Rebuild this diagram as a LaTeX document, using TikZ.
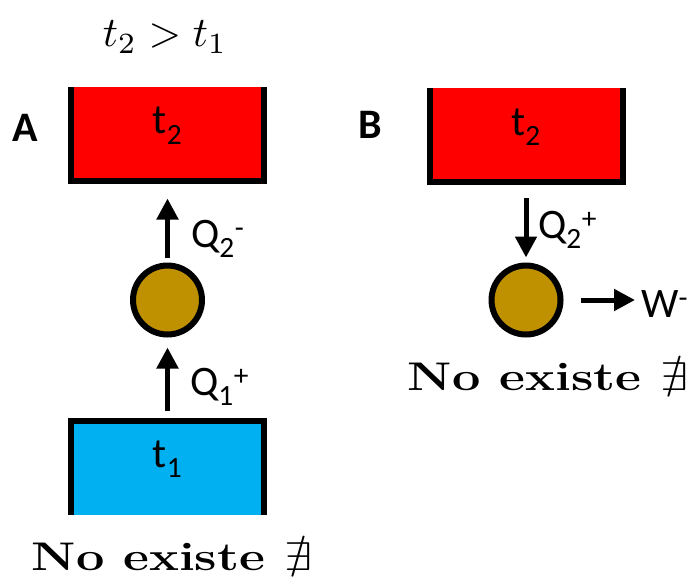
\documentclass[tikz,border=0pt]{standalone}
\usepackage{fontspec}
\usepackage{amssymb}
\usetikzlibrary{arrows.meta,positioning}
\newfontfamily\calibri{Carlito}
\definecolor{hotred}{HTML}{FF0000}
\definecolor{coldblue}{HTML}{00B0F0}
\definecolor{enginegold}{HTML}{BF9000}
\tikzset{
  tank/.style={minimum width=193pt, minimum height=94pt, inner sep=0pt, outer sep=0pt, text height=20pt, text depth=20pt, font=\calibri\fontsize{42}{46}\selectfont},
  wall/.style={line width=6pt, line join=miter},
  engine/.style={circle, draw=black, fill=enginegold, line width=6pt, minimum size=69pt, inner sep=0pt},
  flow/.style={-{Triangle[length=21pt,width=21pt]}, line width=5pt},
  qlabel/.style={font=\calibri\fontsize{42}{46}\selectfont, inner sep=0pt, anchor=base west},
  tag/.style={font=\calibri\bfseries\fontsize{42}{46}\selectfont},
  verdict/.style={font=\bfseries\fontsize{40}{44}\selectfont, xscale=1.26}
}
\begin{document}
\begin{tikzpicture}[x=1pt,y=-1pt]
  \useasboundingbox (0,0) rectangle (692,586);
  \node[scale=4.2] (cond) at (165,37) {$t_2>t_1$};
  % A
  \node[tag] (tagA) at (25,128) {A};
  \node[tank, fill=hotred] (hotA) at (167.5,133.5) {t\textsubscript{2}};
  \draw[wall] (hotA.north west) -- (hotA.south west) -- (hotA.south east) -- (hotA.north east);
  \node[engine] (engA) at (167.5,300) {};
  \node[tank, fill=coldblue] (coldA) at (167.5,467.5) {t\textsubscript{1}};
  \draw[wall] (coldA.south west) -- (coldA.north west) -- (coldA.north east) -- (coldA.south east);
  \draw[flow, shorten <=10pt, shorten >=10pt] (coldA) -- (engA);
  \draw[flow, shorten <=5pt, shorten >=18pt] (engA) -- (hotA);
  \node[qlabel] (q2A) at (191,247) {Q\textsubscript{2}\textsuperscript{-}};
  \node[qlabel] (q1A) at (190,395) {Q\textsubscript{1}\textsuperscript{+}};
  \node[verdict] (noA) at (172,557) {No existe $\nexists$};
  % B
  \node[tag] (tagB) at (370,125) {B};
  \node[tank, fill=hotred] (hotB) at (526,135) {t\textsubscript{2}};
  \draw[wall] (hotB.north west) -- (hotB.south west) -- (hotB.south east) -- (hotB.north east);
  \node[engine] (engB) at (526,300) {};
  \coordinate (wEnd) at (635,300);
  \draw[flow, shorten <=16pt, shorten >=5pt] (hotB) -- (engB);
  \draw[flow, shorten <=17pt] (engB) -- (wEnd);
  \node[qlabel] (q2B) at (538,238) {Q\textsubscript{2}\textsuperscript{+}};
  \node[qlabel] (wB) at (641,317) {W\textsuperscript{-}};
  \node[verdict] (noB) at (548,377) {No existe $\nexists$};
\end{tikzpicture}
\end{document}
